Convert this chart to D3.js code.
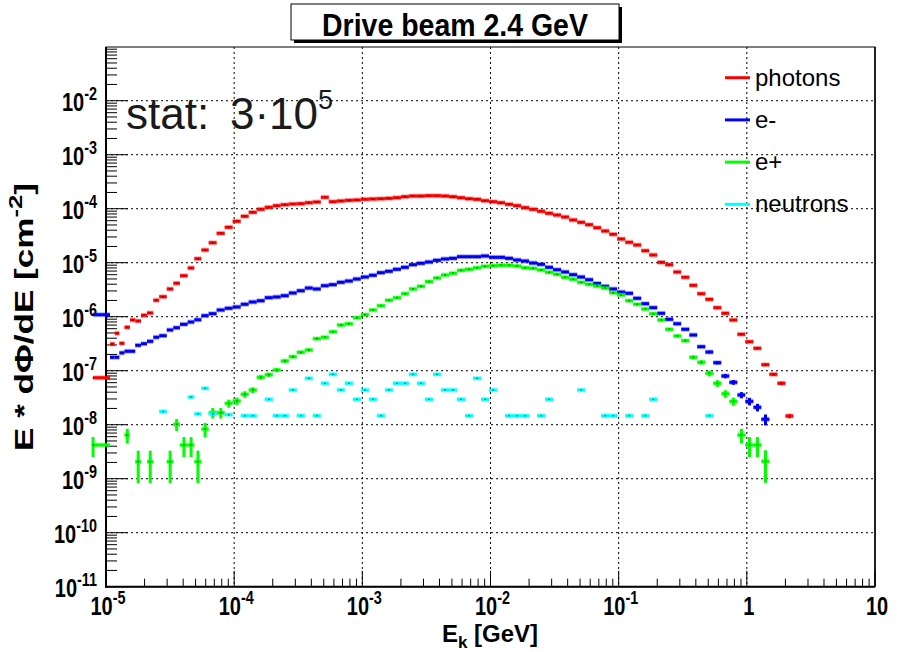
<!DOCTYPE html>
<html>
<head>
<meta charset="utf-8">
<script src="https://cdn.jsdelivr.net/npm/d3@7"></script>
<style>
  body { margin: 0; background: #fff; }
  svg { display: block; }
  text { font-family: "Liberation Sans", Arial, Helvetica, sans-serif; }
</style>
</head>
<body>
<div id="chart"></div>
<script>
// bin edges, log10(E_k / GeV). the first bin starts left of the frame, as in the original plot
const binEdges = [
  -5.101, -4.969, -4.932, -4.896, -4.856, -4.813, -4.772, -4.727, -4.680, -4.631,
  -4.585, -4.526, -4.475, -4.423, -4.363, -4.311, -4.256, -4.199, -4.137, -4.074,
  -4.012, -3.949, -3.887, -3.824, -3.762, -3.699, -3.637, -3.574, -3.512, -3.449,
  -3.387, -3.324, -3.262, -3.199, -3.137, -3.074, -3.012, -2.949, -2.887, -2.824,
  -2.762, -2.699, -2.637, -2.574, -2.512, -2.449, -2.387, -2.324, -2.262, -2.199,
  -2.137, -2.074, -2.012, -1.949, -1.887, -1.824, -1.762, -1.699, -1.637, -1.574,
  -1.512, -1.449, -1.387, -1.324, -1.262, -1.199, -1.137, -1.074, -1.012, -0.949,
  -0.887, -0.824, -0.762, -0.699, -0.637, -0.574, -0.512, -0.449, -0.387, -0.324,
  -0.262, -0.199, -0.137, -0.074, -0.012, 0.051, 0.113, 0.176, 0.238, 0.301, 0.363
];

// bin contents as log10(E * dPhi/dE [cm^-2]); null = empty bin
const photons = [
  -7.13, -6.506, -6.307, -6.493, -6.196, -6.061, -6.080, -5.974, -5.931, -5.696,
  -5.630, -5.487, -5.381, -5.241, -5.098, -4.926, -4.765, -4.630, -4.456, -4.344,
  -4.233, -4.141, -4.067, -4.011, -3.974, -3.944, -3.926, -3.913, -3.907, -3.889,
  -3.876, -3.789, -3.870, -3.857, -3.845, -3.839, -3.826, -3.820, -3.815, -3.808,
  -3.796, -3.778, -3.765, -3.765, -3.759, -3.759, -3.765, -3.778, -3.796, -3.815,
  -3.826, -3.852, -3.870, -3.889, -3.919, -3.944, -3.981, -4.011, -4.048, -4.085,
  -4.117, -4.154, -4.209, -4.252, -4.296, -4.352, -4.413, -4.474, -4.561, -4.622,
  -4.672, -4.778, -4.857, -4.993, -5.037, -5.172, -5.270, -5.419, -5.574, -5.678,
  -5.833, -5.937, -6.061, -6.326, -6.463, -6.585, -6.889, -7.067, -7.233, -7.839
];
const electrons = [
  -5.963, -6.752, -6.752, -6.670, -6.640, -6.640, -6.530, -6.500, -6.456, -6.381,
  -6.352, -6.246, -6.204, -6.141, -6.098, -6.056, -5.981, -5.944, -5.876, -5.844,
  -5.820, -5.770, -5.728, -5.704, -5.648, -5.635, -5.611, -5.561, -5.519, -5.469,
  -5.487, -5.426, -5.407, -5.363, -5.339, -5.302, -5.265, -5.233, -5.185, -5.159,
  -5.122, -5.085, -5.037, -5.011, -4.987, -4.956, -4.931, -4.919, -4.889, -4.889,
  -4.889, -4.876, -4.900, -4.900, -4.919, -4.950, -4.969, -5.006, -5.030, -5.085,
  -5.130, -5.172, -5.222, -5.265, -5.315, -5.385, -5.437, -5.487, -5.544, -5.567,
  -5.659, -5.759, -5.833, -5.937, -6.048, -6.130, -6.233, -6.339, -6.556, -6.654,
  -6.852, -7.098, -7.215, -7.450, -7.567, -7.678, -7.900, null, null, null
];
const positrons = [
  -8.376, null, null, null, -8.191, null, -8.685, null, -8.685, null,
  null, -8.685, -7.993, -8.376, -8.376, -8.685, -8.080, -7.778, -7.778, -7.604,
  -7.561, -7.437, -7.357, -7.122, -7.074, -6.987, -6.820, -6.741, -6.659, -6.617,
  -6.407, -6.381, -6.278, -6.154, -6.130, -6.019, -5.963, -5.876, -5.796, -5.696,
  -5.648, -5.574, -5.487, -5.437, -5.350, -5.283, -5.228, -5.196, -5.141, -5.122,
  -5.093, -5.067, -5.056, -5.048, -5.048, -5.061, -5.093, -5.104, -5.135, -5.178,
  -5.215, -5.270, -5.307, -5.363, -5.400, -5.432, -5.469, -5.556, -5.598, -5.704,
  -5.770, -5.857, -5.944, -6.061, -6.233, -6.357, -6.444, -6.752, -6.844, -7.048,
  -7.233, -7.426, -7.567, -8.191, -8.376, -8.376, -8.678, null, null, null
];
const neutrons = [
  null, null, null, null, null, null, null, null, null, null,
  -7.756, null, null, null, -7.487, -7.800, -7.326, -7.800, null, -7.815,
  null, -7.833, -7.833, null, -7.530, -7.833, -7.833, -7.357, -7.833, -7.141,
  -7.833, -7.233, -7.067, -7.357, -7.233, -7.530, -7.357, -7.530, -7.833, -7.357,
  -7.233, -7.233, -7.067, -7.233, -7.530, -7.067, -7.357, -7.357, -7.530, -7.833,
  -7.141, -7.530, -7.357, null, -7.833, -7.833, -7.833, null, -7.833, -7.530,
  null, null, null, -7.357, null, null, -7.833, -7.833, null, -7.833,
  null, -7.833, -7.530, null, null, null, null, null, null, -7.833,
  null, null, null, null, null, null, null, null, null, null
];

// relative errors (err / content) of the bars that show a visible error bar
const photonsErr = { 86: 0.05, 87: 0.06, 88: 0.07, 89: 0.09 };
const electronsErr = { 78: 0.05, 79: 0.06, 80: 0.07, 81: 0.09, 82: 0.1, 83: 0.13, 84: 0.16, 85: 0.16, 86: 0.23 };
const positronsErr = {
  0: 0.4, 4: 0.3, 6: 0.6, 8: 0.6, 11: 0.6, 12: 0.25, 13: 0.4, 14: 0.4, 15: 0.6, 16: 0.3,
  17: 0.22, 18: 0.22, 19: 0.17, 20: 0.16, 21: 0.14, 22: 0.12, 23: 0.1, 24: 0.09, 25: 0.08,
  26: 0.07, 27: 0.06, 28: 0.06, 29: 0.06, 30: 0.06,
  76: 0.06, 77: 0.08, 78: 0.09, 79: 0.12, 80: 0.14, 81: 0.16, 82: 0.17,
  83: 0.3, 84: 0.4, 85: 0.4, 86: 0.6
};
const neutronsErr = {};

const seriesNames = ["photons", "e-", "e+", "neutrons"];
const seriesValues = [photons, electrons, positrons, neutrons];
const seriesErrors = [photonsErr, electronsErr, positronsErr, neutronsErr];
const seriesColors = ["#ff0000", "#0000ff", "#00ff00", "#00ffff"];

const yDecades = [-11, -10, -9, -8, -7, -6, -5, -4, -3, -2];
const xDecades = [-5, -4, -3, -2, -1, 0, 1];
const xTickText = { "-5": "10|-5", "-4": "10|-4", "-3": "10|-3", "-2": "10|-2", "-1": "10|-1", "0": "1", "1": "10" };

const titleText = "Drive beam 2.4 GeV";

// ---------------------------------------------------------------
const width = 902, height = 652;
const frame = { left: 106, right: 875, top: 47, bottom: 586.7 };

const svg = d3.select("#chart").append("svg")
  .attr("width", width)
  .attr("height", height);

svg.append("rect").attr("width", width).attr("height", height).attr("fill", "#fff");

const x = d3.scaleLog().domain([1e-5, 10]).range([frame.left, frame.right]);
const y = d3.scaleLog().domain([1e-11, 0.0988]).range([frame.bottom, frame.top]);

// grid (dotted, only on major ticks)
const grid = svg.append("g").attr("stroke", "#000").attr("stroke-width", 1).attr("stroke-dasharray", "2,3");
grid.selectAll("line.gx").data(xDecades.filter(d => d > -5 && d < 1)).enter().append("line")
  .attr("x1", d => x(Math.pow(10, d))).attr("x2", d => x(Math.pow(10, d)))
  .attr("y1", frame.top).attr("y2", frame.bottom);
grid.selectAll("line.gy").data(yDecades.filter(d => d > -11)).enter().append("line")
  .attr("y1", d => y(Math.pow(10, d))).attr("y2", d => y(Math.pow(10, d)))
  .attr("x1", frame.left).attr("x2", frame.right);

// frame
svg.append("rect")
  .attr("x", frame.left).attr("y", frame.top)
  .attr("width", frame.right - frame.left).attr("height", frame.bottom - frame.top)
  .attr("fill", "none").attr("stroke", "#000").attr("stroke-width", 1);
svg.append("line").attr("x1", frame.left).attr("x2", frame.left).attr("y1", frame.top).attr("y2", frame.bottom + 1)
  .attr("stroke", "#000").attr("stroke-width", 2);
svg.append("line").attr("x1", frame.left - 1).attr("x2", frame.right).attr("y1", frame.bottom).attr("y2", frame.bottom)
  .attr("stroke", "#000").attr("stroke-width", 2);
svg.append("line").attr("x1", frame.right).attr("x2", frame.right).attr("y1", frame.top).attr("y2", frame.bottom)
  .attr("stroke", "#000").attr("stroke-width", 1.5);

// ticks
const yMinor = [], xMinor = [];
yDecades.forEach(d => { for (let k = 2; k <= 9; k++) { const v = k * Math.pow(10, d); if (v < y.domain()[1]) yMinor.push(v); } });
xDecades.filter(d => d < 1).forEach(d => { for (let k = 2; k <= 9; k++) xMinor.push(k * Math.pow(10, d)); });

const ticks = svg.append("g").attr("stroke", "#000").attr("stroke-width", 1);
ticks.selectAll("line.ym").data(yMinor).enter().append("line")
  .attr("x1", frame.left).attr("x2", frame.left + 11)
  .attr("y1", d => y(d)).attr("y2", d => y(d));
ticks.selectAll("line.yM").data(yDecades).enter().append("line")
  .attr("x1", frame.left).attr("x2", frame.left + 22)
  .attr("y1", d => y(Math.pow(10, d))).attr("y2", d => y(Math.pow(10, d)));
ticks.selectAll("line.xm").data(xMinor).enter().append("line")
  .attr("y1", frame.bottom).attr("y2", frame.bottom - 8)
  .attr("x1", d => x(d)).attr("x2", d => x(d));
ticks.selectAll("line.xM").data(xDecades).enter().append("line")
  .attr("y1", frame.bottom).attr("y2", frame.bottom - 16)
  .attr("x1", d => x(Math.pow(10, d))).attr("x2", d => x(Math.pow(10, d)));

// tick labels: bold, condensed like ROOT's helvetica
function powerLabel(sel, txt) {
  const parts = txt.split("|");
  const t = sel.append("text").attr("font-weight", "bold").attr("fill", "#000");
  t.append("tspan").attr("font-size", 25).text(parts[0]);
  if (parts.length > 1) t.append("tspan").attr("font-size", 18).attr("dy", -11).text(parts[1]);
  return t;
}
yDecades.forEach(d => {
  const g = svg.append("g").attr("transform", `translate(97,${y(Math.pow(10, d)) + 10}) scale(0.8,1)`);
  powerLabel(g, "10|" + d).attr("text-anchor", "end");
});
xDecades.forEach(d => {
  const g = svg.append("g").attr("transform", `translate(${x(Math.pow(10, d)) + 2},615) scale(0.8,1)`);
  powerLabel(g, xTickText[d]).attr("text-anchor", "middle");
});

// axis titles
const xt = svg.append("text").attr("x", 490).attr("y", 642).attr("text-anchor", "middle")
  .attr("font-weight", "bold").attr("font-size", 24);
xt.append("tspan").text("E");
xt.append("tspan").attr("font-size", 17).attr("dy", 6).text("k");
xt.append("tspan").attr("dy", -6).text(" [GeV]");

const yt = svg.append("text").attr("transform", "translate(33,317) rotate(-90)").attr("text-anchor", "middle")
  .attr("font-weight", "bold").attr("font-size", 26)
  .attr("textLength", 268).attr("lengthAdjust", "spacingAndGlyphs");
yt.append("tspan").text("E * d\u03A6/dE [cm");
yt.append("tspan").attr("font-size", 19).attr("dy", -11).text("-2");
yt.append("tspan").attr("dy", 11).text("]");

// histograms: horizontal bar over the bin, vertical error bar, small marker
const plot = svg.append("g");
seriesValues.forEach((vals, s) => {
  const bins = [];
  vals.forEach((v, i) => {
    if (v === null) return;
    const lo = Math.pow(10, binEdges[i]), hi = Math.pow(10, binEdges[i + 1]);
    const val = Math.pow(10, v);
    const rel = seriesErrors[s][i] || 0;
    bins.push({ lo, hi, val, rel, xc: i === 0 ? lo : (lo + hi) / 2 });
  });
  const g = plot.append("g").attr("stroke", seriesColors[s]).attr("fill", "none");
  // soft edge like the antialiased original
  g.selectAll("line.halo").data(bins).enter().append("line")
    .attr("x1", d => x(d.lo)).attr("x2", d => x(d.hi))
    .attr("y1", d => y(d.val)).attr("y2", d => y(d.val))
    .attr("stroke-width", 5).attr("stroke-opacity", 0.3);
  g.selectAll("line.bar").data(bins).enter().append("line")
    .attr("x1", d => x(d.lo)).attr("x2", d => x(d.hi))
    .attr("y1", d => y(d.val)).attr("y2", d => y(d.val))
    .attr("stroke-width", 3);
  g.selectAll("line.err").data(bins.filter(d => d.rel > 0)).enter().append("line")
    .attr("x1", d => x(d.xc)).attr("x2", d => x(d.xc))
    .attr("y1", d => y(d.val * (1 + d.rel))).attr("y2", d => y(d.val * (1 - d.rel)))
    .attr("stroke-width", 3);
  g.selectAll("rect.mk").data(bins).enter().append("rect")
    .attr("x", d => x(d.xc) - 0.75).attr("y", d => y(d.val) - 0.75)
    .attr("width", 1.5).attr("height", 1.5)
    .attr("stroke", "none").attr("fill", "#000").attr("fill-opacity", 0.5);
});

// legend
const legend = svg.append("g");
seriesNames.forEach((name, s) => {
  const ly = 77.7 + s * 42.2;
  legend.append("line").attr("x1", 725).attr("x2", 750).attr("y1", ly).attr("y2", ly)
    .attr("stroke", seriesColors[s]).attr("stroke-width", 3);
  legend.append("text").attr("x", 755).attr("y", ly + 8).attr("font-size", 24).attr("fill", "#000").text(name);
});

// statistics note
const st = svg.append("text").attr("y", 129).attr("font-size", 44).attr("fill", "#1a1a1a");
st.append("tspan").attr("x", 126).text("stat:");
st.append("tspan").attr("x", 230).text("3\u00B710");
st.append("tspan").attr("dy", -20).attr("font-size", 27).text("5");

// title box with shadow
svg.append("rect").attr("x", 294).attr("y", 7).attr("width", 328).attr("height", 36).attr("fill", "#000");
svg.append("rect").attr("x", 291).attr("y", 4).attr("width", 328).attr("height", 36)
  .attr("fill", "#fff").attr("stroke", "#000").attr("stroke-width", 1);
svg.append("g").attr("transform", "translate(455,36) scale(0.89,1)")
  .append("text").attr("text-anchor", "middle").attr("font-weight", "bold").attr("font-size", 32)
  .attr("fill", "#000").text(titleText);
</script>
</body>
</html>
